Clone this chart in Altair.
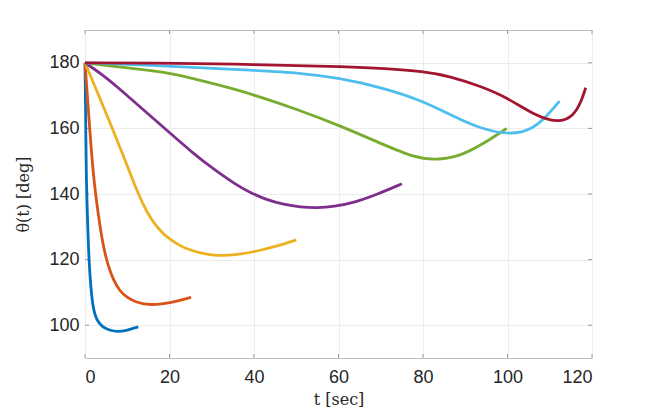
import altair as alt
import pandas as pd

# ---- data ----
series_names = ["s1", "s2", "s3", "s4", "s5", "s6", "s7"]
series_colors = ["#0072BD", "#D95319", "#EDB120", "#7E2F8E", "#77AC30", "#4DBEEE", "#A2142F"]

t_s1 = [0, 0.1, 0.2, 0.3, 0.5, 0.8, 1.2, 1.8, 2.4, 2.9, 3.7, 4.7, 6, 7.5, 10, 12.6]
y_s1 = [180, 170, 157, 146, 136, 124, 114, 106, 103, 101.5, 100.1, 99.1, 98.4, 98.0, 98.4, 99.5]

t_s2 = [0, 0.5, 1.0, 1.5, 2.2, 3.15, 4.3, 5.5, 6.7, 8.3, 9.9, 12, 15.4, 20.9, 25.1]
y_s2 = [180, 171, 162, 153, 143, 133.5, 124, 118, 113.8, 110.3, 108.5, 107, 106, 106.9, 108.5]

t_s3 = [0, 3, 6, 8.5, 10.65, 12.5, 14.6, 16.6, 18.5, 20.1, 22, 24, 27.2, 30, 32.7, 37, 41.4, 46, 50]
y_s3 = [180, 170.8, 161.5, 153.5, 146.5, 140.3, 134.5, 130.6, 127.9, 126.2, 124.6, 123.3, 122, 121.4, 121.2, 121.6, 122.8, 124.3, 126]

t_s4 = [0, 4, 7.5, 13, 19.3, 25.6, 30.4, 36, 39, 43, 47, 51, 55, 59, 63.5, 69, 75]
y_s4 = [180, 176.5, 172.8, 166.6, 159.5, 152.4, 147.6, 142.6, 140.5, 138.2, 136.8, 136.0, 135.75, 136.2, 137.3, 139.8, 143.1]

t_s5 = [0, 9, 15.4, 20.1, 31.2, 40, 50.9, 60, 70.6, 77.7, 83, 88.8, 94.3, 99.8]
y_s5 = [180, 178.6, 177.7, 176.9, 173.4, 170.3, 165.5, 161, 155.1, 151.2, 150.3, 151.5, 155.3, 160]

t_s6 = [0, 15.4, 40, 50.9, 60, 70.6, 80.1, 86.4, 93.5, 101, 106.1, 109.3, 112.3]
y_s6 = [180, 179.3, 177.7, 176.9, 175.4, 172.4, 168.3, 164.2, 159.9, 157.9, 159.9, 163.7, 168.3]

t_s7 = [0, 15.4, 40, 62.7, 70.6, 80.1, 86.4, 93.5, 99.8, 106.1, 112, 115.6, 117.5, 118.5]
y_s7 = [180, 180, 179.5, 178.8, 178.3, 177.4, 175.9, 172.9, 169.5, 164.2, 161.6, 163.7, 168.3, 172.4]

x_ticks = [0, 20, 40, 60, 80, 100, 120]
y_ticks = [100, 120, 140, 160, 180]

# ---- build tables ----
all_t = [t_s1, t_s2, t_s3, t_s4, t_s5, t_s6, t_s7]
all_y = [y_s1, y_s2, y_s3, y_s4, y_s5, y_s6, y_s7]
rows = []
for name, ts, ys in zip(series_names, all_t, all_y):
    for t, y in zip(ts, ys):
        rows.append({"series": name, "t": t, "theta": y})
df = pd.DataFrame(rows)

xtick_rows = []
for v in x_ticks:
    xtick_rows.append({"t": v, "theta": 90, "theta2": 91.2})
    xtick_rows.append({"t": v, "theta": 190, "theta2": 188.8})
ytick_rows = []
for v in y_ticks:
    ytick_rows.append({"theta": v, "t": 0, "t2": 0.95})
    ytick_rows.append({"theta": v, "t": 120, "t2": 119.05})
df_xt = pd.DataFrame(xtick_rows)
df_yt = pd.DataFrame(ytick_rows)

x_scale = alt.Scale(domain=[0, 120], nice=False, zero=False)
y_scale = alt.Scale(domain=[90, 190], nice=False, zero=False)

x_axis = alt.Axis(values=x_ticks, title="t [sec]", labelPadding=10,
                  titleY=46, titleBaseline="alphabetic")
y_axis = alt.Axis(values=y_ticks, title="θ(t) [deg]", labelPadding=6,
                  titleX=-57, titleY=164, titleAngle=270, titleBaseline="alphabetic")

lines = alt.Chart(df).mark_line(strokeWidth=2.8, interpolate="basis").encode(
    x=alt.X("t:Q", scale=x_scale, axis=x_axis),
    y=alt.Y("theta:Q", scale=y_scale, axis=y_axis),
    color=alt.Color("series:N", scale=alt.Scale(domain=series_names, range=series_colors), legend=None),
)

xt = alt.Chart(df_xt).mark_rule(color="#9a9a9a", strokeWidth=1).encode(
    x=alt.X("t:Q", scale=x_scale),
    y=alt.Y("theta:Q", scale=y_scale),
    y2="theta2:Q",
)
yt = alt.Chart(df_yt).mark_rule(color="#9a9a9a", strokeWidth=1).encode(
    x=alt.X("t:Q", scale=x_scale),
    x2="t2:Q",
    y=alt.Y("theta:Q", scale=y_scale),
)

chart = alt.layer(xt, yt, lines).properties(
    width=507, height=328,
    autosize=alt.AutoSizeParams(type="none"),
    padding={"left": 77, "top": 22, "right": 54, "bottom": 52},
    background="white",
).configure_view(
    stroke="#bdbdbd", strokeWidth=1
).configure_axis(
    domain=False, ticks=False, grid=True, gridColor="#ececec", gridWidth=1,
    labelFont="Liberation Sans", labelFontSize=18, labelColor="#262626",
    titleFont="DejaVu Serif", titleFontSize=16, titleFontWeight="normal", titleColor="#262626",
)

chart.save("out.html", embed_options={"renderer": "svg", "actions": False})
